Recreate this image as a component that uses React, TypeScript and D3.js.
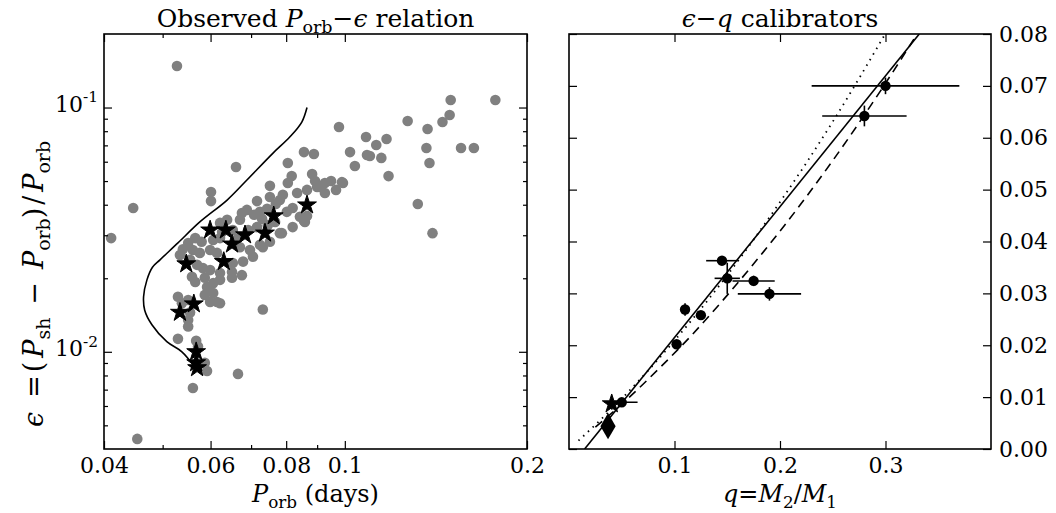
import * as d3 from "d3";
import { useRef, useEffect } from "react";

// ---- left panel: observed superhumpers (Porb [d], epsilon) ----
const fieldSystems: [number, number][] = [
  [0.0411, 0.0292], [0.0447, 0.0388], [0.0528, 0.148], [0.0454, 0.0044], [0.0561, 0.00711],
  [0.0666, 0.00812], [0.0732, 0.0149], [0.0661, 0.0571], [0.0601, 0.0451], [0.0601, 0.0414],
  [0.0978, 0.0832], [0.127, 0.0881], [0.137, 0.0817], [0.145, 0.0872], [0.149, 0.0932],
  [0.1496, 0.1074], [0.1773, 0.1074], [0.1084, 0.0757], [0.1127, 0.0702], [0.1172, 0.0743],
  [0.102, 0.0657], [0.1088, 0.0639], [0.11, 0.0633], [0.1149, 0.0622], [0.1039, 0.0576],
  [0.1181, 0.0524], [0.1364, 0.0683], [0.138, 0.0593], [0.1556, 0.0683], [0.1634, 0.0683],
  [0.0856, 0.0657], [0.0889, 0.0645], [0.0805, 0.0593], [0.0883, 0.0534], [0.0893, 0.05],
  [0.091, 0.0473], [0.0927, 0.0491], [0.0949, 0.05], [0.0989, 0.0495], [0.0993, 0.0491],
  [0.132, 0.0403], [0.1396, 0.0306], [0.0856, 0.0344], [0.0817, 0.0524], [0.0805, 0.0491],
  [0.0752, 0.0478], [0.0834, 0.0447], [0.0866, 0.046], [0.09, 0.0473], [0.0716, 0.0414],
  [0.0781, 0.0418], [0.0752, 0.043], [0.0689, 0.0381], [0.0676, 0.037], [0.0639, 0.0347],
  [0.0622, 0.0337], [0.0724, 0.0374], [0.0744, 0.0385], [0.0802, 0.0374], [0.082, 0.0388],
  [0.0843, 0.0357], [0.0866, 0.036], [0.082, 0.0324], [0.0781, 0.0306], [0.0692, 0.0315],
  [0.0716, 0.0324], [0.0606, 0.0287], [0.0622, 0.0292], [0.0566, 0.0292], [0.058, 0.0282],
  [0.0551, 0.0279], [0.054, 0.0263], [0.0561, 0.0261], [0.0576, 0.0254], [0.0599, 0.0261],
  [0.0615, 0.0254], [0.0671, 0.0268], [0.0697, 0.0261], [0.0724, 0.0274], [0.0679, 0.0234],
  [0.0705, 0.0245], [0.0732, 0.0268], [0.0752, 0.0282], [0.0555, 0.0238], [0.057, 0.0227],
  [0.0583, 0.022], [0.0599, 0.0216], [0.0622, 0.021], [0.0651, 0.0212], [0.0676, 0.0206],
  [0.0653, 0.0231], [0.0534, 0.0249], [0.0559, 0.0203], [0.0587, 0.0201], [0.0566, 0.0193],
  [0.0592, 0.0184], [0.0606, 0.0191], [0.0622, 0.0197], [0.0587, 0.0171], [0.0606, 0.0174],
  [0.0615, 0.016], [0.0599, 0.016], [0.0622, 0.0158], [0.053, 0.0168], [0.0538, 0.0158],
  [0.0555, 0.0145], [0.0551, 0.0135], [0.0551, 0.0127], [0.053, 0.0113], [0.0568, 0.0111],
  [0.0572, 0.0105], [0.0587, 0.00901], [0.0592, 0.00835], [0.0551, 0.0163], [0.0787, 0.0306],
  [0.0859, 0.034], [0.0651, 0.0201], [0.0769, 0.0403], [0.079, 0.0439], [0.073, 0.035],
  [0.0708, 0.0364], [0.0671, 0.0347], [0.0653, 0.0315], [0.0627, 0.0309], [0.0666, 0.0292],
  [0.0746, 0.033], [0.0767, 0.034], [0.0927, 0.0447], [0.0967, 0.046],
];

const calibratorsObs: [number, number][] = [
  [0.0599, 0.0315], [0.0636, 0.0315], [0.0651, 0.0276], [0.0684, 0.0301], [0.0738, 0.0306],
  [0.0763, 0.036], [0.0866, 0.0399], [0.0547, 0.0229], [0.0631, 0.0234], [0.0563, 0.0157],
  [0.0534, 0.0145], [0.0568, 0.01], [0.0568, 0.00901], [0.057, 0.0086],
];

// evolution track
const trackPorb = [0.0866, 0.0849, 0.0811, 0.0761, 0.0689, 0.0639, 0.0576, 0.053, 0.0495,
  0.0481, 0.0471, 0.0465, 0.0467, 0.048, 0.0508, 0.0538, 0.0563];
const trackEps = [0.1, 0.0872, 0.0757, 0.0651, 0.0505, 0.0418, 0.034, 0.0279, 0.0238,
  0.0222, 0.0197, 0.0168, 0.0148, 0.0129, 0.011, 0.01, 0.00876];

const leftXMajor = [0.04, 0.06, 0.08, 0.1, 0.2];
const leftXLabels = ["0.04", "0.06", "0.08", "0.1", "0.2"];
const leftXMinor = [0.05, 0.07, 0.09];
const leftYMajor = [0.01, 0.1];
const leftYLabels = ["-2", "-1"];
const leftYMinor = [0.005, 0.006, 0.007, 0.008, 0.009, 0.02, 0.03, 0.04, 0.05, 0.06, 0.07, 0.08, 0.09];

// ---- right panel: eclipsing calibrators (q, eps) with errors ----
const calQ = [0.30, 0.28, 0.145, 0.15, 0.175, 0.19, 0.11, 0.125, 0.102, 0.05];
const calQErr = [0.07, 0.04, 0.015, 0.012, 0.02, 0.03, 0, 0, 0, 0.015];
const calEps = [0.070, 0.0642, 0.0363, 0.0329, 0.0324, 0.0299, 0.0269, 0.0258, 0.0202, 0.009];
const calEpsErr = [0.0016, 0.002, 0.0004, 0.003, 0.001, 0.0013, 0.0012, 0.0006, 0.0006, 0.0005];
const starCal: [number, number] = [0.0405, 0.0087];
const diamondCal: [number, number] = [0.037, 0.0044];

// fits
const solidQ = [0.0148, 0.332];
const solidEps = [0, 0.08];
const dashQ = [0.025, 0.0578, 0.0863, 0.117, 0.146, 0.173, 0.2, 0.25, 0.3, 0.33];
const dashEps = [0.0042, 0.0101, 0.0157, 0.0221, 0.0287, 0.0352, 0.042, 0.0556, 0.0705, 0.08];
const dotQ = [0.009, 0.05, 0.1, 0.15, 0.2, 0.25, 0.2997];
const dotEps = [0.0016, 0.0097, 0.0209, 0.0335, 0.0476, 0.0631, 0.08];

const rightXTicks = [0.1, 0.2, 0.3];
const rightYTicks = [0, 0.01, 0.02, 0.03, 0.04, 0.05, 0.06, 0.07, 0.08];

const FONT = "'DejaVu Serif', serif";

// [text, kind, extra gap before]
type Part = [string, string?, number?];

function rich(g: any, x: number, y: number, size: number, parts: Part[], anchor = "middle") {
  const t = g.append("text")
    .attr("x", x).attr("y", y)
    .attr("font-size", size)
    .attr("text-anchor", anchor)
    .style("font-family", FONT)
    .style("white-space", "pre");
  let shift = 0;
  parts.forEach(([s, kind, gap]) => {
    const target = kind === "sub" ? size * 0.25 : kind === "sup" ? -size * 0.42 : 0;
    const ts = t.append("tspan").attr("dy", target - shift).text(s);
    if (gap) ts.attr("dx", gap);
    shift = target;
    if (kind === "i") ts.attr("font-style", "italic");
    if (kind === "sub" || kind === "sup") ts.attr("font-size", size * 0.7);
  });
  return t;
}

export default function App() {
  const ref = useRef<SVGSVGElement>(null);

  useEffect(() => {
    const width = 1056;
    const height = 513;
    const top = 34, bottom = 449;
    const lLeft = 104, lRight = 527;
    const rLeft = 569, rRight = 991;

    const svg = d3.select(ref.current)
      .attr("width", width)
      .attr("height", height)
      .attr("viewBox", `0 0 ${width} ${height}`)
      .style("font-family", FONT);
    svg.selectAll("*").remove();

    const defs = svg.append("defs");
    defs.append("clipPath").attr("id", "clipL").append("rect")
      .attr("x", lLeft).attr("y", top).attr("width", lRight - lLeft).attr("height", bottom - top);
    defs.append("clipPath").attr("id", "clipR").append("rect")
      .attr("x", rLeft).attr("y", top).attr("width", rRight - rLeft).attr("height", bottom - top);

    // --- Left panel scales ---
    const xL = d3.scaleLog().domain([0.04, 0.2]).range([lLeft, lRight]);
    const yL = d3.scaleLog().domain([0.004, 0.2]).range([bottom, top]);

    const gL = svg.append("g").attr("clip-path", "url(#clipL)");
    gL.append("g").selectAll("circle")
      .data(fieldSystems)
      .join("circle")
        .attr("cx", d => xL(d[0]))
        .attr("cy", d => yL(d[1]))
        .attr("r", 5.3)
        .attr("fill", "#808080");

    const track = d3.line<number>()
      .x((_, i) => xL(trackPorb[i]))
      .y((_, i) => yL(trackEps[i]))
      .curve(d3.curveCatmullRom);
    gL.append("path")
      .attr("d", track(trackPorb))
      .attr("fill", "none")
      .attr("stroke", "#000")
      .attr("stroke-width", 1.6);

    const star = d3.symbol().type(d3.symbolStar).size(110);
    gL.append("g").selectAll("path")
      .data(calibratorsObs)
      .join("path")
        .attr("d", star)
        .attr("transform", d => `translate(${xL(d[0])},${yL(d[1])})`)
        .attr("fill", "#000")
        .attr("stroke", "#000")
        .attr("stroke-width", 1);

    // --- Right panel scales ---
    const xR = d3.scaleLinear().domain([0, 0.4]).range([rLeft, rRight]);
    const yR = d3.scaleLinear().domain([0, 0.08]).range([bottom, top]);

    const gR = svg.append("g").attr("clip-path", "url(#clipR)");
    const fitLine = (qs: number[], es: number[], curve: any) =>
      d3.line<number>().x((_, i) => xR(qs[i])).y((_, i) => yR(es[i])).curve(curve)(qs);

    gR.append("path").attr("d", fitLine(dotQ, dotEps, d3.curveMonotoneX))
      .attr("fill", "none").attr("stroke", "#000").attr("stroke-width", 1.8)
      .attr("stroke-dasharray", "1.5,5");
    gR.append("path").attr("d", fitLine(dashQ, dashEps, d3.curveMonotoneX))
      .attr("fill", "none").attr("stroke", "#000").attr("stroke-width", 1.6)
      .attr("stroke-dasharray", "9,6");
    gR.append("path").attr("d", fitLine(solidQ, solidEps, d3.curveLinear))
      .attr("fill", "none").attr("stroke", "#000").attr("stroke-width", 1.6);

    const idx = d3.range(calQ.length);
    gR.append("g").selectAll("line")
      .data(idx.filter(i => calQErr[i] > 0))
      .join("line")
        .attr("x1", i => xR(calQ[i] - calQErr[i]))
        .attr("x2", i => xR(calQ[i] + calQErr[i]))
        .attr("y1", i => yR(calEps[i]))
        .attr("y2", i => yR(calEps[i]))
        .attr("stroke", "#000").attr("stroke-width", 1.6);
    gR.append("g").selectAll("line")
      .data(idx)
      .join("line")
        .attr("x1", i => xR(calQ[i]))
        .attr("x2", i => xR(calQ[i]))
        .attr("y1", i => yR(calEps[i] - calEpsErr[i]))
        .attr("y2", i => yR(calEps[i] + calEpsErr[i]))
        .attr("stroke", "#000").attr("stroke-width", 1.6);
    gR.append("g").selectAll("circle")
      .data(idx)
      .join("circle")
        .attr("cx", i => xR(calQ[i]))
        .attr("cy", i => yR(calEps[i]))
        .attr("r", 5.2)
        .attr("fill", "#000");
    gR.append("path")
      .attr("d", d3.symbol().type(d3.symbolStar).size(110)())
      .attr("transform", `translate(${xR(starCal[0])},${yR(starCal[1])})`)
      .attr("fill", "#000").attr("stroke", "#000").attr("stroke-width", 1);
    gR.append("path")
      .attr("d", d3.symbol().type(d3.symbolDiamond).size(200)())
      .attr("transform", `translate(${xR(diamondCal[0])},${yR(diamondCal[1])})`)
      .attr("fill", "#000");

    // --- Axes (inward ticks on all sides) ---
    const styleAxis = (g: any) => {
      g.attr("font-family", null).attr("font-size", null);
      g.select(".domain").remove();
      g.selectAll(".tick line").attr("stroke", "#000").attr("stroke-width", 1.2);
      g.selectAll(".tick text").attr("fill", "#000")
        .style("font-size", "22px")
        .style("font-family", FONT);
    };
    const noLabel = () => "";

    // left x
    svg.append("g").attr("transform", `translate(0,${bottom})`)
      .call(d3.axisBottom(xL).tickValues(leftXMajor).tickSize(-8).tickPadding(8)
        .tickFormat((_, i) => leftXLabels[i]))
      .call(styleAxis);
    svg.append("g").attr("transform", `translate(0,${bottom})`)
      .call(d3.axisBottom(xL).tickValues(leftXMinor).tickSize(-4).tickFormat(noLabel))
      .call(styleAxis);
    svg.append("g").attr("transform", `translate(0,${top})`)
      .call(d3.axisTop(xL).tickValues(leftXMajor).tickSize(-8).tickFormat(noLabel))
      .call(styleAxis);
    svg.append("g").attr("transform", `translate(0,${top})`)
      .call(d3.axisTop(xL).tickValues(leftXMinor).tickSize(-4).tickFormat(noLabel))
      .call(styleAxis);
    // left y
    [[lLeft, d3.axisLeft], [lRight, d3.axisRight]].forEach(([xp, ax]: any) => {
      svg.append("g").attr("transform", `translate(${xp},0)`)
        .call(ax(yL).tickValues(leftYMajor).tickSize(-8).tickFormat(noLabel))
        .call(styleAxis);
      svg.append("g").attr("transform", `translate(${xp},0)`)
        .call(ax(yL).tickValues(leftYMinor).tickSize(-4).tickFormat(noLabel))
        .call(styleAxis);
    });
    const yLab = svg.append("g").attr("fill", "#000");
    leftYMajor.forEach((v, i) => {
      rich(yLab, 98, yL(v) + 4, 22, [["10"], [leftYLabels[i], "sup"]], "end");
    });

    // right x
    svg.append("g").attr("transform", `translate(0,${bottom})`)
      .call(d3.axisBottom(xR).tickValues(rightXTicks).tickSize(-8).tickPadding(8)
        .tickFormat(d3.format(".1f")))
      .call(styleAxis);
    svg.append("g").attr("transform", `translate(0,${top})`)
      .call(d3.axisTop(xR).tickValues(rightXTicks).tickSize(-8).tickFormat(noLabel))
      .call(styleAxis);
    // right y
    svg.append("g").attr("transform", `translate(${rLeft},0)`)
      .call(d3.axisLeft(yR).tickValues(rightYTicks).tickSize(-8).tickFormat(noLabel))
      .call(styleAxis);
    svg.append("g").attr("transform", `translate(${rRight},0)`)
      .call(d3.axisRight(yR).tickValues(rightYTicks).tickSize(-8).tickPadding(8)
        .tickFormat(d3.format(".2f")))
      .call(styleAxis);

    // frames
    [[lLeft, lRight], [rLeft, rRight]].forEach(([a, b]) => {
      svg.append("rect")
        .attr("x", a).attr("y", top)
        .attr("width", b - a).attr("height", bottom - top)
        .attr("fill", "none").attr("stroke", "#000").attr("stroke-width", 1.6);
    });

    // --- Titles and axis labels ---
    const txt = svg.append("g").attr("fill", "#000");
    rich(txt, (lLeft + lRight) / 2, 27, 25,
      [["Observed "], ["P", "i"], ["orb", "sub"], ["−"], ["ϵ", "i"], [" relation"]]);
    rich(txt, (rLeft + rRight) / 2, 27, 25,
      [["ϵ", "i"], ["−"], ["q", "i"], [" calibrators"]]);
    rich(txt, (lLeft + lRight) / 2, 502, 24,
      [["P", "i"], ["orb", "sub"], [" (days)"]]);
    rich(txt, (rLeft + rRight) / 2, 502, 24,
      [["q", "i"], ["="], ["M", "i"], ["2", "sub"], ["/"], ["M", "i"], ["1", "sub"]]);
    const yl = txt.append("g").attr("transform", "translate(43,284) rotate(-90)");
    rich(yl, 0, 0, 27,
      [["ϵ", "i"], ["=", undefined, 14], ["(", undefined, 3], ["P", "i", 4], ["sh", "sub"],
       ["−", undefined, 13], ["P", "i", 13], ["orb", "sub"],
       [")", undefined, 0], ["/", undefined, 3], ["P", "i", 4], ["orb", "sub"]]);
  }, []);

  return (
    <div style={{ position: "absolute", left: 0, top: 0 }}>
      <svg ref={ref}></svg>
    </div>
  );
}
